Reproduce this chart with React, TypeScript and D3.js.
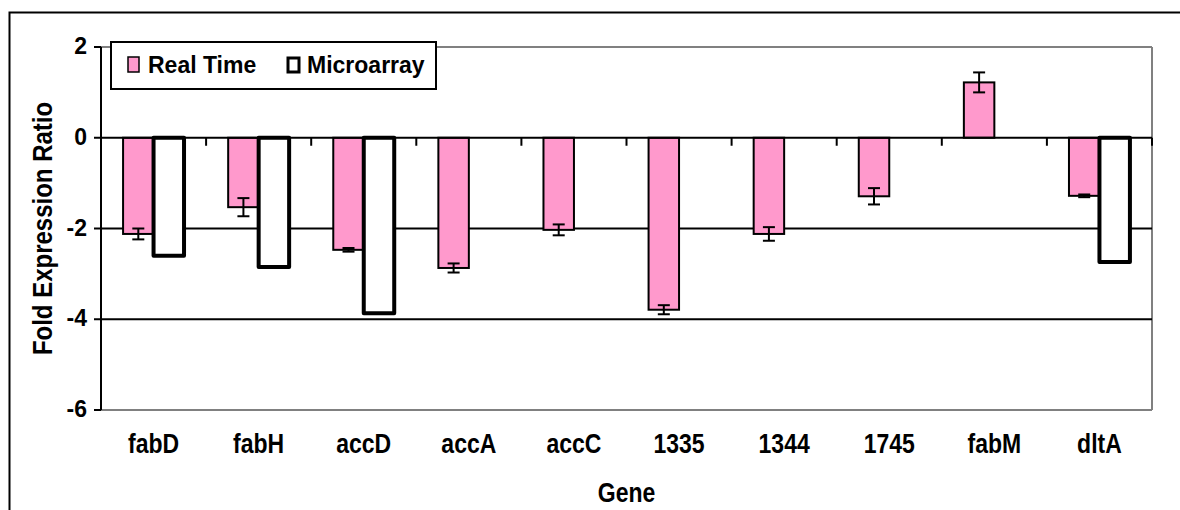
import React from 'react';
import * as d3 from 'd3';

const genes = ['fabD', 'fabH', 'accD', 'accA', 'accC', '1335', '1344', '1745', 'fabM', 'dltA'];
const realTime = [-2.12, -1.53, -2.47, -2.87, -2.03, -3.79, -2.12, -1.29, 1.22, -1.28];
const realTimeErr = [0.12, 0.2, 0.04, 0.1, 0.12, 0.1, 0.15, 0.18, 0.22, 0.03];
const microarray: (number | null)[] = [-2.6, -2.85, -3.87, null, null, null, null, null, null, -2.74];
const yTicks = [2, 0, -2, -4, -6];
const series = ['Real Time', 'Microarray'];

const W = 1180;
const H = 510;
const FONT = '"Liberation Sans", Arial, sans-serif';
const PINK = '#FF99CC';

const App: React.FC = () => {
  const plot = { left: 101, right: 1152, top: 47, bottom: 410 };

  const x = d3.scaleBand<string>().domain(genes).range([plot.left, plot.right]).padding(0);
  const y = d3.scaleLinear().domain([-6, 2]).range([plot.bottom, plot.top]);
  const bw = x.bandwidth();
  const barW = bw * 0.29;
  // two bars side by side, centred in each category
  const xSub = d3.scaleBand<string>().domain(series).range([bw / 2 - barW, bw / 2 + barW]);

  const bar = (v: number) => ({ y: Math.min(y(v), y(0)), h: Math.abs(y(v) - y(0)) });
  const boundaries = genes.map(g => (x(g) as number) + bw);

  return (
    <svg width={W} height={H} style={{ position: 'absolute', left: 0, top: 0, display: 'block' }}
      fontFamily={FONT} fontWeight="bold">
      <rect x={0} y={0} width={W} height={H} fill="#fff" />
      {/* outer chart frame */}
      <rect x={9.5} y={12.5} width={W + 20} height={H + 20} fill="none" stroke="#000" strokeWidth={2} />

      {/* plot border (grey) */}
      <line x1={plot.left} x2={plot.right} y1={y(2)} y2={y(2)} stroke="#808080" strokeWidth={2} />
      <line x1={plot.left} x2={plot.right} y1={y(-6)} y2={y(-6)} stroke="#808080" strokeWidth={2} />
      <line x1={plot.right} x2={plot.right} y1={y(2)} y2={y(-6)} stroke="#808080" strokeWidth={2} />

      {/* gridlines */}
      {[-2, -4].map(t => (
        <line key={t} x1={plot.left} x2={plot.right} y1={y(t)} y2={y(t)} stroke="#000" strokeWidth={2} />
      ))}

      {/* Real Time bars */}
      {genes.map((g, i) => {
        const b = bar(realTime[i]);
        return (
          <rect key={'rt' + g} x={(x(g) as number) + (xSub('Real Time') as number)} y={b.y}
            width={xSub.bandwidth()} height={b.h} fill={PINK} stroke="#000" strokeWidth={2} />
        );
      })}
      {/* Microarray bars */}
      {genes.map((g, i) => {
        const v = microarray[i];
        if (v == null) return null;
        const b = bar(v);
        return (
          <rect key={'ma' + g} x={(x(g) as number) + (xSub('Microarray') as number)} y={b.y}
            width={xSub.bandwidth()} height={b.h} fill="#fff" stroke="#000" strokeWidth={4}
            strokeLinejoin="round" />
        );
      })}

      {/* x axis at zero */}
      <line x1={plot.left} x2={plot.right} y1={y(0)} y2={y(0)} stroke="#000" strokeWidth={2} />
      {boundaries.map((bx, i) => (
        <line key={'xt' + i} x1={bx} x2={bx} y1={y(0)} y2={y(0) + 8} stroke="#000" strokeWidth={2} />
      ))}

      {/* error bars */}
      {genes.map((g, i) => {
        const cx = (x(g) as number) + (xSub('Real Time') as number) + xSub.bandwidth() / 2;
        const lo = y(realTime[i] - realTimeErr[i]);
        const hi = y(realTime[i] + realTimeErr[i]);
        return (
          <g key={'err' + g} stroke="#000" strokeWidth={2}>
            <line x1={cx} x2={cx} y1={lo} y2={hi} />
            <line x1={cx - 6} x2={cx + 6} y1={lo} y2={lo} />
            <line x1={cx - 6} x2={cx + 6} y1={hi} y2={hi} />
          </g>
        );
      })}

      {/* y axis */}
      <line x1={plot.left} x2={plot.left} y1={y(2)} y2={y(-6)} stroke="#000" strokeWidth={2} />
      {yTicks.map(t => (
        <g key={'yt' + t}>
          <line x1={plot.left - 7} x2={plot.left} y1={y(t)} y2={y(t)} stroke="#000" strokeWidth={2} />
          <text x={87} y={y(t) + 7} textAnchor="end" fontSize={23}>{t}</text>
        </g>
      ))}

      {/* category labels (slightly tall, as in the original) */}
      {genes.map(g => (
        <text key={'lab' + g} transform={`translate(${(x(g) as number) + bw / 2},453) scale(1,1.22)`}
          textAnchor="middle" fontSize={23}>{g}</text>
      ))}

      {/* axis titles */}
      <text transform={`translate(${(plot.left + plot.right) / 2},502) scale(1,1.18)`} textAnchor="middle" fontSize={23}>Gene</text>
      <text transform={`translate(52,${(plot.top + plot.bottom) / 2}) rotate(-90) scale(1,1.18)`} textAnchor="middle" fontSize={24}>
        Fold Expression Ratio
      </text>

      {/* legend */}
      <g>
        <rect x={111} y={42} width={325} height={47} fill="#fff" stroke="#000" strokeWidth={2} />
        <rect x={128} y={57} width={11} height={15} fill={PINK} stroke="#000" strokeWidth={1.5} />
        <text x={148} y={73} fontSize={23}>{series[0]}</text>
        <rect x={288} y={58} width={11} height={14} fill="#fff" stroke="#000" strokeWidth={3} />
        <text x={307} y={73} fontSize={23}>{series[1]}</text>
      </g>
    </svg>
  );
};

export default App;
